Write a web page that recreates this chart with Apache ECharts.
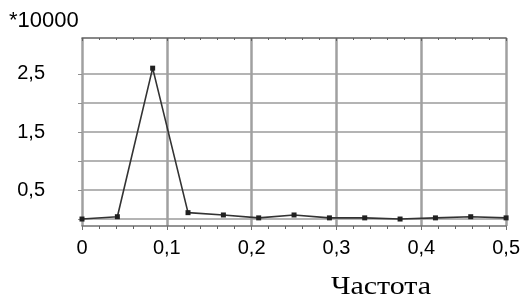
<!DOCTYPE html>
<html>
<head>
<meta charset="utf-8">
<script src="https://cdn.jsdelivr.net/npm/echarts@6/dist/echarts.min.js"></script>
<style>html,body{margin:0;padding:0;background:#fff}#c{width:523px;height:304px}</style>
</head>
<body>
<div id="c"></div>
<script>
// Frequency values (k/24)
var freq = [0, 0.0417, 0.0833, 0.125, 0.1667, 0.2083, 0.25, 0.2917, 0.3333, 0.375, 0.4167, 0.4583, 0.5];
// Amplitude (*10000)
var amp = [0.0, 0.04, 2.6, 0.11, 0.07, 0.02, 0.07, 0.02, 0.02, 0.0, 0.02, 0.04, 0.02];
var yGrid = [0, 0.5, 1, 1.5, 2, 2.5];
var yLabels = [0.5, 1.5, 2.5];

var chart = echarts.init(document.getElementById('c'));
var fmt = function (v) { return v === 0 ? '0' : (+v).toFixed(1).replace('.', ','); };
chart.setOption({
  animation: false,
  grid: { left: 82, right: 7, top: 38, bottom: 78 },
  xAxis: [{
    type: 'value', min: 0, max: 0.5, interval: 0.1,
    axisLine: { onZero: false, lineStyle: { color: '#707070', width: 1.5 } },
    axisTick: { show: true, length: 4, lineStyle: { color: '#707070' } },
    minorTick: { show: true, splitNumber: 5, length: 3, lineStyle: { color: '#606060' } },
    axisLabel: { formatter: fmt, color: '#000', fontFamily: 'Liberation Sans', fontSize: 20, margin: 12 },
    splitLine: { show: true, lineStyle: { color: '#a0a0a0', width: 2.5 } }
  }, {
    type: 'value', min: 0, max: 0.5, interval: 0.1, position: 'top',
    axisLine: { onZero: false, lineStyle: { color: '#606060', width: 1.5 } },
    axisTick: { show: true, inside: true, length: 3, lineStyle: { color: '#606060' } },
    minorTick: { show: true, splitNumber: 5, length: 2, lineStyle: { color: '#606060' } },
    axisLabel: { show: false },
    splitLine: { show: false }
  }],
  yAxis: {
    type: 'value', min: -0.12, max: 3.12,
    axisLine: { show: false },
    axisTick: { show: true, length: 4, customValues: yGrid, lineStyle: { color: '#909090' } },
    axisLabel: { customValues: yLabels, formatter: fmt, color: '#000', fontFamily: 'Liberation Sans', fontSize: 20, margin: 37, align: 'right' },
    splitLine: { show: true, lineStyle: { color: '#b4b4b4', width: 2 } }
  },
  series: [{
    type: 'line',
    data: freq.map(function (f, i) { return [f, amp[i]]; }),
    symbol: 'rect', symbolSize: 5,
    lineStyle: { color: '#333', width: 1.6 },
    itemStyle: { color: '#202020' }
  }],
  graphic: [
    { type: 'text', left: 9, top: 10, style: { text: '*10000', font: '22px "Liberation Sans"', fill: '#000' } },
    { type: 'text', x: 381, y: 287, scaleX: 1.2, style: { text: 'Частота', font: '25px "Liberation Serif"', fill: '#000', align: 'center', verticalAlign: 'middle' } }
  ]
});
</script>
</body>
</html>
